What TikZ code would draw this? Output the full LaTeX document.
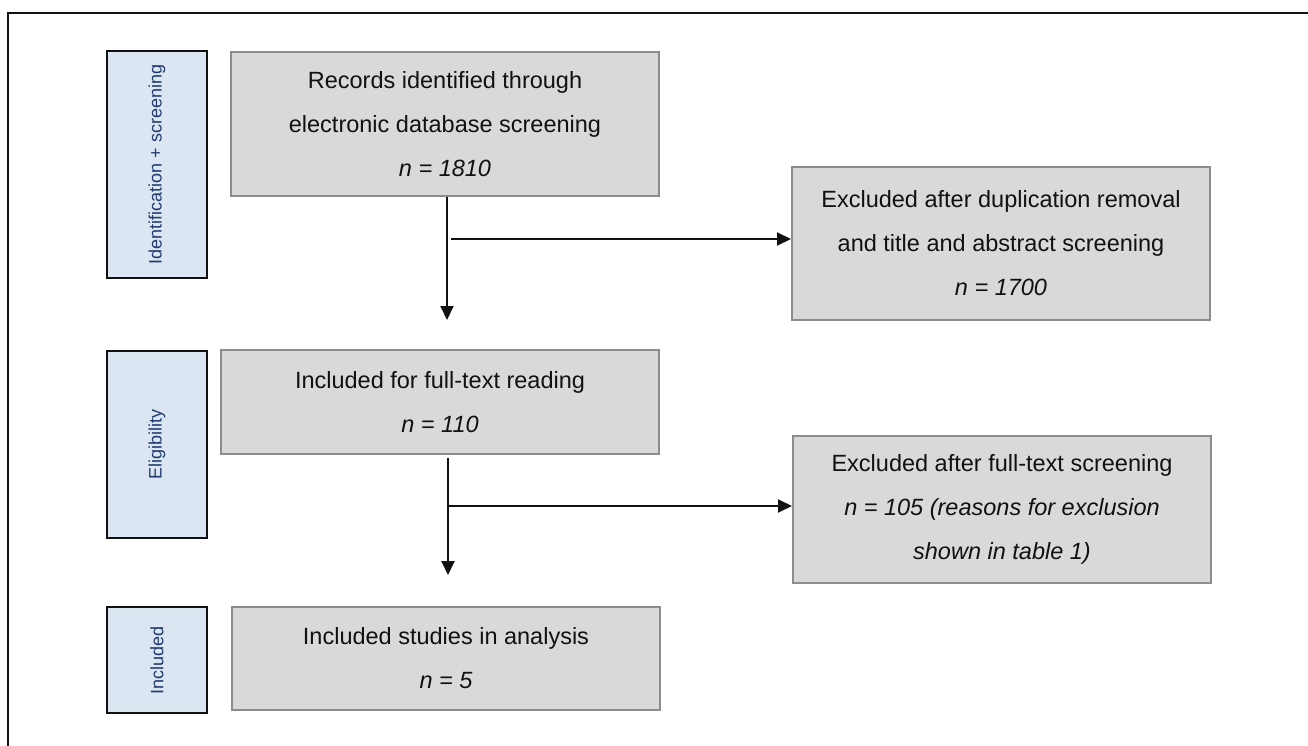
\documentclass[tikz,border=0pt]{standalone}
\usepackage{fontspec}
\setmainfont{Liberation Sans}
\usetikzlibrary{arrows.meta,positioning}
\definecolor{ink}{HTML}{111111}
\definecolor{boxfill}{HTML}{D9D9D9}
\definecolor{boxrule}{HTML}{8C8C8C}
\definecolor{stagefill}{HTML}{DCE6F2}
\definecolor{stagetext}{HTML}{1F3A6E}
\tikzset{
  >={Triangle[length=14pt,width=13pt]},
  box/.style={draw=boxrule, fill=boxfill, line width=2pt, align=center,
    font=\fontsize{23.5}{44}\selectfont, text=ink, inner sep=0pt},
  stage/.style={draw=ink, fill=stagefill, line width=2.4pt, rotate=90,
    minimum height=100pt, text=stagetext, font=\fontsize{18}{22}\selectfont},
  arr/.style={->, draw=ink, line width=2pt},
}
\begin{document}
\begin{tikzpicture}[x=1pt,y=-1pt]
  \useasboundingbox (0,0) rectangle (1308,746);
  % frame (only top and left visible)
  \draw[ink, line width=2pt] (8,746) -- (8,13) -- (1308,13);
  % =================== stages ===================
  \node[stage, minimum width=227pt] (sid) at (157,164.5) {Identification + screening};
  \node[stage, minimum width=187pt] (sel) at (157,444.5) {Eligibility};
  \node[stage, minimum width=106pt] (sin) at (157,660) {Included};
  % =================== flow boxes ===================
  \node[box, minimum width=428pt, minimum height=144pt] (rec) at (445,124)
    {Records identified through\\ electronic database screening\\ \textit{n = 1810}};
  \node[box, minimum width=418pt, minimum height=153pt] (exa) at (1001,243.5)
    {Excluded after duplication removal\\ and title and abstract screening\\ \textit{n = 1700}};
  \node[box, minimum width=438pt, minimum height=104pt] (full) at (440,402)
    {Included for full-text reading\\ \textit{n = 110}};
  \node[box, minimum width=418pt, minimum height=147pt] (exb) at (1002,509.5)
    {Excluded after full-text screening\\ \textit{n = 105 (reasons for exclusion}\\ \textit{shown in table 1)}};
  \node[box, minimum width=428pt, minimum height=103pt] (inc) at (446,658.5)
    {Included studies in analysis\\ \textit{n = 5}};
  % =================== connectors ===================
  \coordinate (ta) at (447,320);
  \coordinate (ba) at (451,239);
  \draw[arr] (rec.south -| ta) -- (ta);
  \draw[arr] (ba) -- (ba -| exa.west);
  \coordinate (sb) at (448,458);
  \coordinate (tb) at (448,575);
  \coordinate (bb) at (448,506);
  \draw[arr] (sb) -- (tb);
  \draw[arr] (bb) -- (bb -| exb.west);
\end{tikzpicture}
\end{document}
